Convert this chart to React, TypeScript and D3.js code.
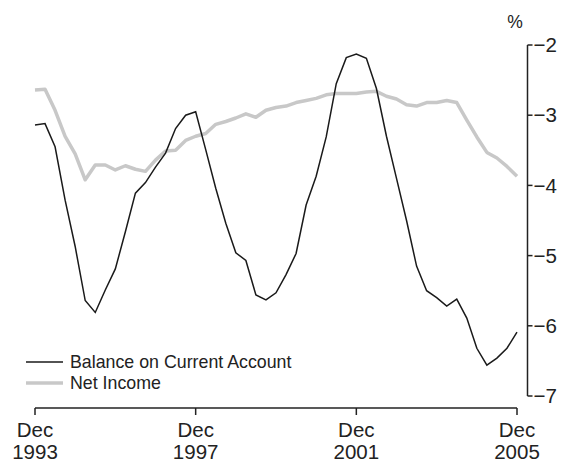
import React from "react";
import * as d3 from "d3";

const quarters: string[] = [
  "Dec 1993","Mar 1994","Jun 1994","Sep 1994","Dec 1994","Mar 1995","Jun 1995","Sep 1995","Dec 1995",
  "Mar 1996","Jun 1996","Sep 1996","Dec 1996","Mar 1997","Jun 1997","Sep 1997","Dec 1997",
  "Mar 1998","Jun 1998","Sep 1998","Dec 1998","Mar 1999","Jun 1999","Sep 1999","Dec 1999",
  "Mar 2000","Jun 2000","Sep 2000","Dec 2000","Mar 2001","Jun 2001","Sep 2001","Dec 2001",
  "Mar 2002","Jun 2002","Sep 2002","Dec 2002","Mar 2003","Jun 2003","Sep 2003","Dec 2003",
  "Mar 2004","Jun 2004","Sep 2004","Dec 2004","Mar 2005","Jun 2005","Sep 2005","Dec 2005",
];

const balanceCurrentAccount: number[] = [
  -3.14, -3.12, -3.45, -4.21, -4.87, -5.64, -5.81, -5.49, -5.19,
  -4.66, -4.11, -3.96, -3.74, -3.54, -3.19, -3.0, -2.95,
  -3.49, -4.04, -4.54, -4.96, -5.07, -5.56, -5.63, -5.53,
  -5.27, -4.97, -4.28, -3.87, -3.31, -2.55, -2.18, -2.13,
  -2.19, -2.62, -3.3, -3.9, -4.5, -5.15, -5.5, -5.6,
  -5.72, -5.62, -5.89, -6.32, -6.56, -6.46, -6.32, -6.09,
];

const netIncome: number[] = [
  -2.64, -2.63, -2.93, -3.3, -3.55, -3.92, -3.71, -3.71, -3.78,
  -3.72, -3.77, -3.8, -3.64, -3.51, -3.5, -3.36, -3.3,
  -3.26, -3.13, -3.09, -3.04, -2.98, -3.03, -2.93, -2.89,
  -2.87, -2.82, -2.79, -2.76, -2.71, -2.69, -2.69, -2.69,
  -2.67, -2.66, -2.73, -2.77, -2.85, -2.87, -2.82, -2.82,
  -2.79, -2.82, -3.07, -3.31, -3.53, -3.61, -3.73, -3.87,
];

const yTicks: number[] = [-2, -3, -4, -5, -6, -7];
const xTickQuarters: string[] = ["Dec 1993", "Dec 1997", "Dec 2001", "Dec 2005"];

const seriesNames: string[] = ["Balance on Current Account", "Net Income"];

const W = 564;
const H = 462;
const FONT = "'Liberation Sans', Arial, sans-serif";

export default function App() {
  const x = d3.scaleLinear().domain([0, quarters.length - 1]).range([35, 517]);
  const y = d3.scaleLinear().domain([-7, -2]).range([396, 45]);

  const line = d3
    .line<number>()
    .x((_, i) => x(i))
    .y((d) => y(d));

  const axisX = 527.5;
  const axisY = 408;

  return (
    <svg
      width={W}
      height={H}
      style={{ position: "absolute", left: 0, top: 0, background: "#fff" }}
      fontFamily={FONT}
    >
      <rect x={0} y={0} width={W} height={H} fill="#fff" />
      {/* lines */}
      <path d={line(netIncome) || ""} fill="none" stroke="#c8c8c8" strokeWidth={3.5} strokeLinejoin="round" />
      <path d={line(balanceCurrentAccount) || ""} fill="none" stroke="#1a1a1a" strokeWidth={1.5} strokeLinejoin="miter" />

      {/* Y axis (right) */}
      <line x1={axisX} x2={axisX} y1={y(-2)} y2={y(-7)} stroke="#222" strokeWidth={1.5} />
      {yTicks.map((t) => (
        <g key={t}>
          <line x1={axisX} x2={axisX + 5} y1={y(t)} y2={y(t)} stroke="#222" strokeWidth={1.5} />
          <text x={axisX + 6} y={y(t)} dy="0.35em" fontSize={20.5} fill="#222">
            {"\u2212" + Math.abs(t)}
          </text>
        </g>
      ))}
      <text x={515} y={22} dy="0.35em" fontSize={17.5} fill="#222" textAnchor="middle">%</text>

      {/* X axis */}
      <line x1={x(0)} x2={x(quarters.length - 1)} y1={axisY} y2={axisY} stroke="#222" strokeWidth={1.5} />
      {xTickQuarters.map((q) => {
        const i = quarters.indexOf(q);
        const [m, yr] = q.split(" ");
        return (
          <g key={q}>
            <line x1={x(i)} x2={x(i)} y1={axisY} y2={axisY + 7} stroke="#222" strokeWidth={1.5} />
            <text x={x(i)} y={430} dy="0.35em" fontSize={20.5} fill="#222" textAnchor="middle">{m}</text>
            <text x={x(i)} y={452} dy="0.35em" fontSize={20.5} fill="#222" textAnchor="middle">{yr}</text>
          </g>
        );
      })}

      {/* Legend */}
      <line x1={26} x2={63} y1={362} y2={362} stroke="#1a1a1a" strokeWidth={1.5} />
      <text x={70} y={362} dy="0.35em" fontSize={17.8} fill="#222">{seriesNames[0]}</text>
      <line x1={26} x2={63} y1={383} y2={383} stroke="#c8c8c8" strokeWidth={3.5} />
      <text x={70} y={383} dy="0.35em" fontSize={17.8} fill="#222">{seriesNames[1]}</text>
    </svg>
  );
}
